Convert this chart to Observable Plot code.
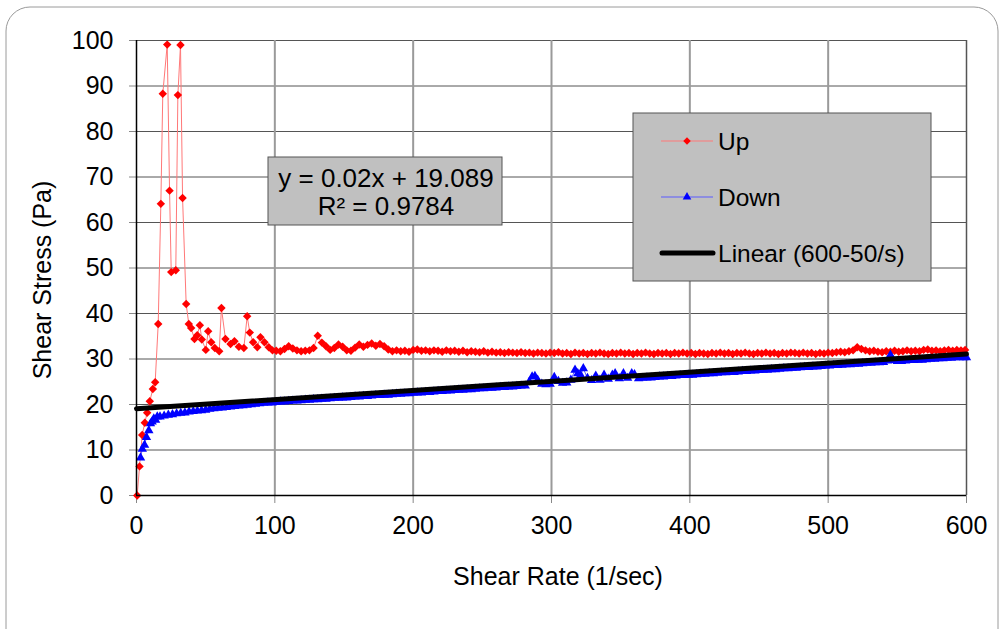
<!DOCTYPE html>
<html>
<head>
<meta charset="utf-8">
<script src="https://cdn.jsdelivr.net/npm/d3@7"></script>
<script src="https://cdn.jsdelivr.net/npm/@observablehq/plot@0.6"></script>
<style>
  html, body { margin: 0; padding: 0; background: #fff; }
  #chart { width: 1004px; height: 629px; }
</style>
</head>
<body>
<div id="chart"></div>
<script>
// Shear stress vs shear rate: ramp up, ramp down, and linear fit of the down curve.
const seriesNames = ["Up", "Down", "Linear (600-50/s)"];
const xTitle = "Shear Rate (1/sec)";
const yTitle = "Shear Stress (Pa)";
const xTicks = [0, 100, 200, 300, 400, 500, 600];
const yTicks = [0, 10, 20, 30, 40, 50, 60, 70, 80, 90, 100];

// Fit parameters as printed on the chart
const trendSlope = 0.02;
const trendIntercept = 19.089;
const trendR2 = 0.9784;
const trendRange = [0, 600];

// Ramp up [shear rate, shear stress]
const upPoints = [
  [0.5, 0], [2.2, 6.4], [4.1, 13.3], [6.0, 16.0], [7.7, 18.2], [9.6, 20.7], [11.8, 23.4], [13.5, 24.9],
  [15.7, 37.7], [17.6, 64.1], [19.0, 88.3], [22.2, 99.1], [23.9, 67.0], [25.1, 49.1], [28.4, 49.5],
  [29.9, 88.0], [31.8, 99.0], [33.3, 65.4], [35.9, 42.1], [37.8, 37.7], [39.5, 36.8], [41.9, 34.4],
  [43.9, 35.2], [45.8, 37.4], [47.2, 34.3], [50.1, 32.0], [51.8, 36.1], [54.0, 33.7], [56.6, 32.4],
  [59.8, 31.7], [61.4, 41.2], [64.3, 34.4], [68.0, 33.3], [70.8, 33.9], [74.0, 32.7], [77.6, 32.4],
  [80.0, 39.4], [81.9, 35.8], [84.3, 33.7], [87.3, 32.6], [89.6, 34.8], [92.5, 33.7], [95.6, 32.6],
  [98.3, 31.9],
  [101, 31.8], [104, 31.7], [107, 32.2], [110, 32.8], [113, 32.3], [116, 31.9], [119, 31.7], [122, 31.8],
  [125, 31.9], [128, 32.4], [131, 35.1], [134, 33.6], [137, 32.8], [140, 32.0], [143, 32.4], [146, 33.2],
  [149, 32.7], [152, 31.9], [155, 31.8], [158, 32.5], [161, 33.2], [164, 32.7], [167, 33.1], [170, 33.4],
  [173, 32.9], [176, 33.3], [179, 32.8], [182, 32.1], [185, 31.7], [188, 31.9], [191, 31.7], [194, 31.8],
  [197, 31.6], [200, 32.0], [203, 32.1], [206, 31.8], [209, 31.9], [212, 31.7], [215, 31.9], [218, 31.8],
  [221, 31.6], [224, 31.9], [227, 31.7], [230, 31.8], [233, 31.6], [236, 31.8], [239, 31.5], [242, 31.7],
  [245, 31.6], [248, 31.5], [251, 31.7], [254, 31.4], [257, 31.6], [260, 31.4], [263, 31.5], [266, 31.3],
  [269, 31.5], [272, 31.4], [275, 31.3], [278, 31.5], [281, 31.3], [284, 31.4], [287, 31.2], [290, 31.4],
  [293, 31.3], [296, 31.2], [299, 31.4], [302, 31.3], [305, 31.5], [308, 31.2], [311, 31.3], [314, 31.1],
  [317, 31.4], [320, 31.2], [323, 31.3], [326, 31.1], [329, 31.3], [332, 31.2], [335, 31.4], [338, 31.2],
  [341, 31.1], [344, 31.3], [347, 31.2], [350, 31.4], [353, 31.2], [356, 31.3], [359, 31.1], [362, 31.3],
  [365, 31.2], [368, 31.4], [371, 31.2], [374, 31.1], [377, 31.3], [380, 31.2], [383, 31.3], [386, 31.1],
  [389, 31.3], [392, 31.2], [395, 31.4], [398, 31.2], [401, 31.3], [404, 31.1], [407, 31.3], [410, 31.2],
  [413, 31.1], [416, 31.3], [419, 31.2], [422, 31.4], [425, 31.2], [428, 31.3], [431, 31.1], [434, 31.3],
  [437, 31.2], [440, 31.4], [443, 31.2], [446, 31.1], [449, 31.3], [452, 31.2], [455, 31.4], [458, 31.2],
  [461, 31.3], [464, 31.1], [467, 31.3], [470, 31.2], [473, 31.4], [476, 31.3], [479, 31.2], [482, 31.4],
  [485, 31.2], [488, 31.3], [491, 31.1], [494, 31.3], [497, 31.2], [500, 31.4], [503, 31.3], [506, 31.5],
  [509, 31.6], [512, 31.5], [515, 31.7], [518, 31.9], [521, 32.6], [524, 32.2], [527, 31.9], [530, 31.7],
  [533, 31.8], [536, 31.6], [539, 31.5], [542, 31.7], [545, 31.6], [548, 31.8], [551, 31.6], [554, 31.7],
  [557, 31.9], [560, 31.7], [563, 31.8], [566, 31.7], [569, 32.0], [572, 32.1], [575, 31.8], [578, 31.9],
  [581, 31.7], [584, 31.9], [587, 32.0], [590, 31.8], [593, 32.0], [596, 31.9], [599, 32.0]
];

// Ramp down [shear rate, shear stress]
const downPoints = [
  [2.9, 8.3], [4.2, 10.2], [5.8, 11.1], [7.2, 12.8], [8.9, 14.3], [10.1, 15.8], [11.3, 16.2],
  [12.5, 16.9], [13.8, 16.6], [15.0, 17.3],
  [17, 17.3], [20, 17.5], [23, 17.7], [26, 17.8], [29, 18.0], [32, 18.1], [35, 18.2], [38, 18.4],
  [41, 18.5], [44, 18.6], [47, 18.7], [50, 18.8], [53, 19.0], [56, 19.1], [59, 19.2], [62, 19.3],
  [65, 19.4], [68, 19.5], [71, 19.6], [74, 19.7], [77, 19.8], [80, 19.9], [83, 20.0], [86, 20.1],
  [89, 20.2], [92, 20.3], [95, 20.4], [98, 20.4], [101, 20.5], [104, 20.6], [107, 20.6], [110, 20.7],
  [113, 20.8], [116, 20.8], [119, 20.9], [122, 21.0], [125, 21.0], [128, 21.1], [131, 21.1], [134, 21.2],
  [137, 21.2], [140, 21.3], [143, 21.4], [146, 21.4], [149, 21.5], [152, 21.5], [155, 21.6], [158, 21.7],
  [161, 21.7], [164, 21.8], [167, 21.8], [170, 21.9], [173, 22.0], [176, 22.0], [179, 22.1], [182, 22.1],
  [185, 22.2], [188, 22.3], [191, 22.3], [194, 22.4], [197, 22.4], [200, 22.5], [203, 22.6], [206, 22.6],
  [209, 22.7], [212, 22.7], [215, 22.8], [218, 22.9], [221, 22.9], [224, 23.0], [227, 23.0], [230, 23.1],
  [233, 23.2], [236, 23.2], [239, 23.3], [242, 23.3], [245, 23.4], [248, 23.5], [251, 23.5], [254, 23.6],
  [257, 23.6], [260, 23.7], [263, 23.8], [266, 23.8], [269, 23.9], [272, 23.9], [275, 24.0], [278, 24.1],
  [281, 24.1], [284, 25.0], [286, 26.1], [288, 26.2], [290, 25.4], [293, 24.5], [296, 24.4], [299, 24.5],
  [302, 26.0], [305, 25.1], [308, 24.7], [311, 24.8], [314, 25.4], [317, 27.6], [319, 26.8], [321, 26.5],
  [323, 27.9], [326, 25.8], [329, 25.3], [332, 26.3], [335, 25.4], [338, 26.5], [341, 25.6], [344, 26.5],
  [346, 26.8], [349, 25.7], [352, 26.8], [355, 25.8], [358, 26.8], [360, 26.6], [363, 25.7], [366, 25.8],
  [369, 25.9], [372, 25.9], [375, 26.0], [378, 26.1], [381, 26.1], [384, 26.2], [387, 26.2], [390, 26.3],
  [393, 26.4], [396, 26.4], [399, 26.5], [402, 26.5], [405, 26.6], [408, 26.7], [411, 26.7], [414, 26.8],
  [417, 26.8], [420, 26.9], [423, 27.0], [426, 27.0], [429, 27.1], [432, 27.1], [435, 27.2], [438, 27.3],
  [441, 27.3], [444, 27.4], [447, 27.4], [450, 27.5], [453, 27.6], [456, 27.6], [459, 27.7], [462, 27.7],
  [465, 27.8], [468, 27.9], [471, 27.9], [474, 28.0], [477, 28.0], [480, 28.1], [483, 28.2], [486, 28.2],
  [489, 28.3], [492, 28.3], [495, 28.4], [498, 28.5], [501, 28.5], [504, 28.6], [507, 28.6], [510, 28.7],
  [513, 28.8], [516, 28.8], [519, 28.9], [522, 28.9], [525, 29.0], [528, 29.1], [531, 29.1], [534, 29.2],
  [537, 29.2], [540, 29.3], [543, 29.6], [545, 30.9], [547, 29.7], [550, 29.5], [553, 29.5], [556, 29.6],
  [559, 29.7], [562, 29.7], [565, 29.8], [568, 29.8], [571, 29.9], [574, 30.0], [577, 30.0], [580, 30.1],
  [583, 30.1], [586, 30.2], [589, 30.2], [592, 30.3], [595, 30.3], [598, 30.3], [600, 30.3]
];

const up = upPoints.map(([x, y]) => ({x, y}));
const down = downPoints.map(([x, y]) => ({x, y}));
const trend = trendRange.map(x => ({x, y: trendIntercept + trendSlope * x}));

const FONT = "'Liberation Sans', Arial, Helvetica, sans-serif";
const upColor = "#ff0000", upLine = "#ff7878";
const downColor = "#0000ff", downLine = "#5a5aff";

const chart = Plot.plot({
  width: 1004,
  height: 629,
  marginLeft: 136,
  marginRight: 38,
  marginTop: 40,
  marginBottom: 134,
  style: {fontFamily: FONT, fontSize: "25px", color: "#000", background: "#fff", overflow: "hidden"},
  x: {domain: [0, 600]},
  y: {domain: [0, 100]},
  marks: [
    Plot.gridY(yTicks.filter(v => v > 0), {stroke: "#555", strokeOpacity: 1, strokeWidth: 1}),
    Plot.gridX(xTicks.filter(v => v > 0 && v < 600), {stroke: "#9a9a9a", strokeOpacity: 1, strokeWidth: 2}),
    Plot.ruleX([600], {stroke: "#555", strokeWidth: 1.5}),
    Plot.axisX(xTicks, {tickSize: 8, tickPadding: 13, label: null, stroke: "#888", fill: "#000", fontSize: 25}),
    Plot.axisY(yTicks, {tickSize: 7, tickPadding: 16, label: null, stroke: "#888", fill: "#000", fontSize: 25}),
    Plot.line(up, {x: "x", y: "y", stroke: upLine, strokeWidth: 1}),
    Plot.dot(up, {x: "x", y: "y", symbol: "diamond2", r: 3.8, fill: upColor, stroke: "none"}),
    Plot.line(down, {x: "x", y: "y", stroke: downLine, strokeWidth: 1}),
    Plot.dot(down, {x: "x", y: "y", symbol: "triangle", r: 3.5, fill: downColor, stroke: "none"}),
    Plot.line(trend, {x: "x", y: "y", stroke: "#000", strokeWidth: 5}),
    Plot.ruleX([0], {stroke: "#000", strokeWidth: 1.5}),
    Plot.ruleY([0], {stroke: "#000", strokeWidth: 1.5})
  ]
});

document.getElementById("chart").appendChild(chart);

const svg = d3.select(chart);

function label(parent, x, y, text, size, anchor) {
  return parent.append("text")
    .attr("x", x).attr("y", y)
    .attr("text-anchor", anchor)
    .style("font-family", FONT).style("font-size", size + "px")
    .attr("fill", "#000")
    .text(text);
}

// Axis titles
label(svg, 558, 585, xTitle, 25, "middle");
label(svg, 0, 0, yTitle, 25, "middle").attr("transform", "translate(51,280) rotate(-90)");

// Fit equation box
const eq = svg.append("g");
eq.append("rect")
  .attr("x", 268).attr("y", 157).attr("width", 234).attr("height", 68)
  .attr("fill", "#c0c0c0").attr("stroke", "#555").attr("stroke-width", 1);
label(eq, 386, 187, `y = ${trendSlope}x + ${trendIntercept}`, 26, "middle");
label(eq, 386, 215, `R² = ${trendR2}`, 26, "middle");

// Legend
const lg = svg.append("g");
lg.append("rect")
  .attr("x", 633).attr("y", 113).attr("width", 298).attr("height", 168)
  .attr("fill", "#c0c0c0").attr("stroke", "#555").attr("stroke-width", 1);

const legendRows = [
  {name: seriesNames[0], y: 141, line: upLine, width: 1, color: upColor, symbol: d3.symbolDiamond2, size: 36},
  {name: seriesNames[1], y: 197, line: downLine, width: 1, color: downColor, symbol: d3.symbolTriangle, size: 32},
  {name: seriesNames[2], y: 253, line: "#000", width: 5, color: null, symbol: null, size: 0}
];
for (const row of legendRows) {
  lg.append("line")
    .attr("x1", row.width > 1 ? 662 : 661).attr("x2", 713)
    .attr("y1", row.y).attr("y2", row.y)
    .attr("stroke", row.line).attr("stroke-width", row.width)
    .attr("stroke-linecap", row.width > 1 ? "round" : "butt");
  if (row.symbol) {
    lg.append("path")
      .attr("d", d3.symbol(row.symbol, row.size)())
      .attr("transform", `translate(687,${row.y})`)
      .attr("fill", row.color);
  }
  label(lg, 718, row.y + 9, row.name, 24.5, "start");
}

// Rounded outer frame
svg.append("rect")
  .attr("x", 6).attr("y", 7).attr("width", 992).attr("height", 660).attr("rx", 24)
  .attr("fill", "none").attr("stroke", "#9a9a9a").attr("stroke-width", 1);
</script>
</body>
</html>
